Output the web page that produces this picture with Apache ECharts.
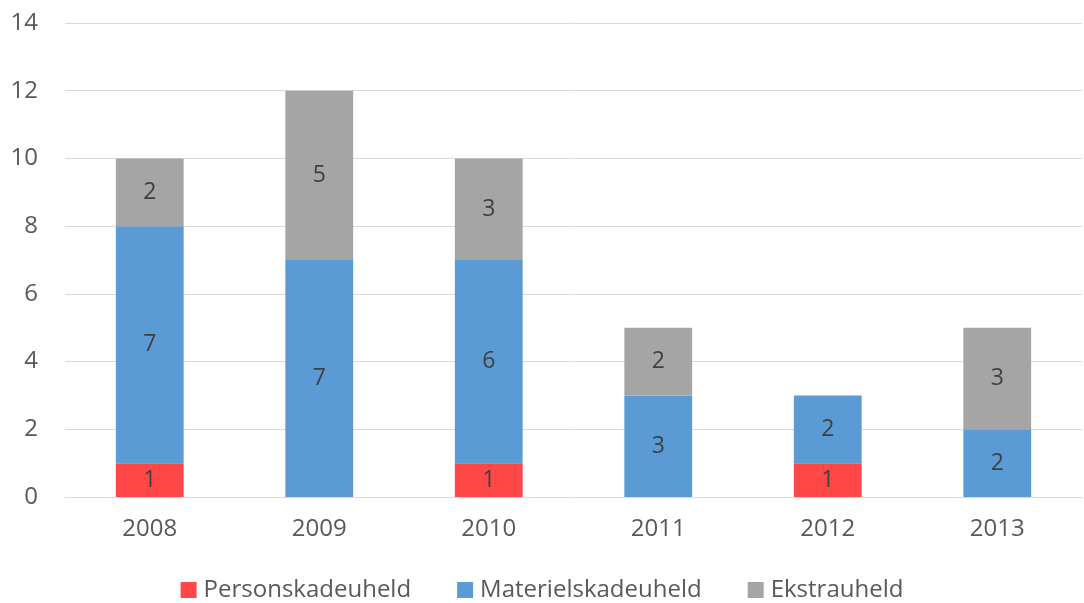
<!DOCTYPE html>
<html>
<head>
<meta charset="utf-8">
<script src="https://cdn.jsdelivr.net/npm/echarts@6/dist/echarts.min.js"></script>
<style>
  html, body { margin: 0; padding: 0; background: #fff; }
  #chart { width: 1084px; height: 603px; }
</style>
</head>
<body>
<div id="chart"></div>
<script>
// data
const years = ['2008', '2009', '2010', '2011', '2012', '2013'];
const personskade = [1, null, 1, null, 1, null];
const materielskade = [7, 7, 6, 3, 2, 2];
const ekstra = [2, 5, 3, 2, null, 3];

const fontFam = '"Open Sans", "Noto Sans", sans-serif';

let chart = echarts.init(document.getElementById('chart'));

function bar(name, data, color) {
  return {
    name: name,
    type: 'bar',
    stack: 'total',
    barWidth: '40%',
    data: data,
    itemStyle: { color: color },
    label: {
      show: true,
      position: 'inside',
      color: '#404040',
      fontSize: 23,
      fontFamily: fontFam
    }
  };
}

let option = {
  animation: false,
  textStyle: { fontFamily: fontFam },
  grid: {
    left: 65,
    right: 2,
    top: 23,
    bottom: 106
  },
  legend: {
    bottom: -4,
    left: 'center',
    itemWidth: 16,
    itemHeight: 16,
    itemGap: 46,
    icon: 'rect',
    textStyle: { fontSize: 24, color: '#595959', fontFamily: fontFam, padding: [0, 0, 0, 2] },
    data: ['Personskadeuheld', 'Materielskadeuheld', 'Ekstrauheld']
  },
  xAxis: {
    type: 'category',
    data: years,
    axisLine: { lineStyle: { color: '#d9d9d9' } },
    axisTick: { show: false },
    axisLabel: { fontSize: 24, color: '#595959', margin: 20 }
  },
  yAxis: {
    type: 'value',
    min: 0,
    max: 14,
    interval: 2,
    axisLine: { show: false },
    axisTick: { show: false },
    splitLine: { lineStyle: { color: '#d9d9d9' } },
    axisLabel: { fontSize: 24, color: '#595959', margin: 27 }
  },
  series: [
    bar('Personskadeuheld', personskade, '#FF4747'),
    bar('Materielskadeuheld', materielskade, '#5B9BD5'),
    bar('Ekstrauheld', ekstra, '#A5A5A5')
  ]
};

chart.setOption(option);
</script>
</body>
</html>
